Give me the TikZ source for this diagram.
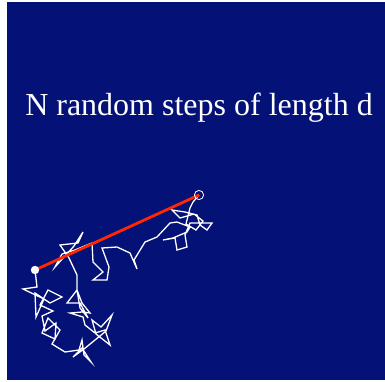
\documentclass[tikz,border=0pt]{standalone}
\usepackage{fontspec}
\setmainfont{Liberation Serif}
\definecolor{bgblue}{RGB}{4,17,118}
\definecolor{redline}{RGB}{255,40,0}
\begin{document}
\begin{tikzpicture}[x=1pt,y=-1pt,
  walk/.style={white,line width=1.3pt,line join=miter},
  dist/.style={redline,line width=2.8pt},
  title/.style={white,font=\fontsize{32}{38}\selectfont,inner sep=0pt,anchor=base}]
\useasboundingbox (0,0) rectangle (385,381);
\fill[white] (0,0) rectangle (385,381);
\fill[bgblue] (7,2) rectangle (385,380);
\node[title] (t) at (199,115) {N random steps of length d};
\coordinate (s) at (35,270);
\coordinate (e) at (199,195);
\draw[walk] (s) -- (37,287) -- (23,289) -- (44,299) -- (36,317) -- (35,293) -- (50,303) -- (62,297)
 -- (48,290) -- (40,305) -- (53,311) -- (42,316) -- (45,331) -- (56,323) -- (55,339) -- (42,333)
 -- (48,318) -- (60,330) -- (52,344) -- (65,352)
 -- (79,350) -- (82,340) -- (84,355) -- (91,362) -- (82,348) -- (73,357) -- (84,349) -- (95,340)
 -- (106,331) -- (112,315) -- (101,327) -- (92,320) -- (96,334) -- (110,345) -- (105,330) -- (95,333)
 -- (85,325) -- (83,317) -- (70,313) -- (82,312) -- (90,313) -- (82,303) -- (77,290) -- (67,303)
 -- (80,303) -- (88,318) -- (80,308) -- (77,290) -- (77,275) -- (69,258) -- (60,245) -- (78,243)
 -- (83,232) -- (74,246) -- (65,256) -- (55,267) -- (62,254) -- (75,250) -- (92,243) -- (93,262)
 -- (103,272) -- (93,280) -- (107,280) -- (109,267) -- (102,248) -- (117,247) -- (130,253) -- (137,269)
 -- (134,260) -- (145,242) -- (157,237) -- (170,223) -- (177,222) -- (190,227) -- (187,232) -- (173,238)
 -- (163,240) -- (175,238) -- (177,250) -- (187,247) -- (185,235) -- (190,223) -- (212,223) -- (207,230)
 -- (200,225) -- (197,215) -- (185,212) -- (172,210) -- (180,218) -- (194,214) -- (203,221) -- (196,230)
 -- (186,224) -- (190,208) -- (193,202) -- (e);
\draw[dist] (s) -- (e);
\fill[white] (s) circle (4.2);
\draw[white,line width=0.8pt] (e) circle (4.6);
\end{tikzpicture}
\end{document}
